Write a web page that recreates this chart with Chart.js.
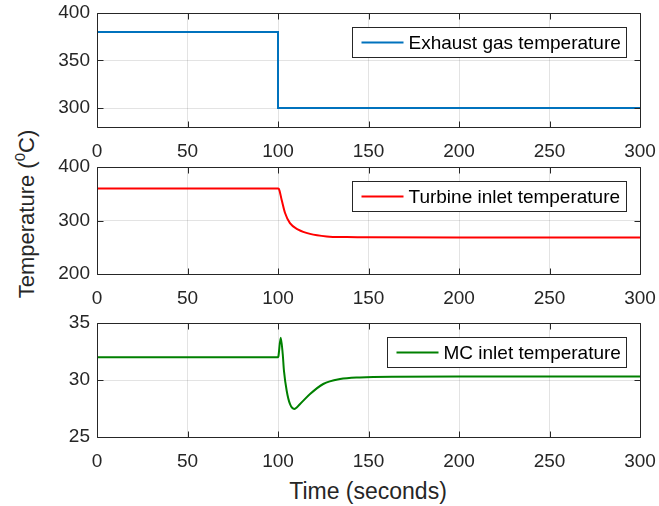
<!DOCTYPE html>
<html>
<head>
<meta charset="utf-8">
<script src="https://cdn.jsdelivr.net/npm/chart.js@4/dist/chart.umd.min.js"></script>
<style>
  body { margin: 0; background: #fff; }
  #wrap { position: relative; width: 659px; height: 506px; overflow: hidden; }
  canvas { position: absolute; left: 0; }
  .lbl { position: absolute; font-family: "Liberation Sans", Arial, sans-serif; color: #262626; white-space: nowrap; }
  #ylab { font-size: 22px; left: 27px; top: 214px; transform: translate(-50%, -50%) rotate(-90deg); }
  #xlab { font-size: 23px; left: 368px; top: 491px; transform: translate(-50%, -50%); }
  sup { font-size: 15px; vertical-align: 9px; line-height: 0; }
</style>
</head>
<body>
<div id="wrap">
  <canvas id="c1" width="659" height="165" style="top:0px;z-index:3"></canvas>
  <canvas id="c2" width="659" height="157" style="top:155px;z-index:2"></canvas>
  <canvas id="c3" width="659" height="173" style="top:302px;z-index:1"></canvas>
  <div class="lbl" id="ylab">Temperature (<sup>0</sup>C)</div>
  <div class="lbl" id="xlab">Time (seconds)</div>
</div>
<script>
// ===== Data =====
const xTicks = [0, 50, 100, 150, 200, 250, 300];

const exhaustTime = [0, 100, 100, 300];
const exhaustTemp = [380, 380, 300, 300];

const turbineTime = [0, 100, 100.5, 102, 103.9, 106.6, 111.2, 117.7, 126.9, 138, 150, 200, 300];
const turbineTemp = [360, 360, 359, 339, 314, 295, 283, 275, 270.3, 269, 268.5, 268.4, 268.4];

const mcTime = [0, 100, 100.2, 101.5, 102.6, 103.3, 104.8, 106.6, 109, 112.2, 117.7, 125, 134.3, 145.3, 163.7, 200, 300];
const mcTemp = [32, 32, 32.05, 33.7, 32.3, 30.8, 29.06, 27.9, 27.46, 27.9, 28.77, 29.65, 30.08, 30.23, 30.29, 30.3, 30.3];

const yTicks1 = [300, 350, 400];
const yTicks2 = [200, 300, 400];
const yTicks3 = [25, 30, 35];

const FONT = "'Liberation Sans', Arial, sans-serif";
const INK = "#262626";

// frame with inward ticks + boxed legend, MATLAB style
const matlabFrame = {
  id: "matlabFrame",
  afterDraw(chart) {
    const ctx = chart.ctx;
    const a = chart.chartArea;
    const xs = chart.scales.x, ys = chart.scales.y;
    ctx.save();
    ctx.strokeStyle = INK;
    ctx.lineWidth = 1;
    ctx.beginPath();
    const L = Math.round(a.left) + 0.5, R = Math.round(a.right) + 0.5;
    const T = Math.round(a.top) + 0.5, B = Math.round(a.bottom) + 0.5;
    ctx.rect(L, T, R - L, B - T);
    const tl = 6;
    xs.ticks.forEach(t => {
      const px = Math.round(xs.getPixelForValue(t.value)) + 0.5;
      ctx.moveTo(px, B); ctx.lineTo(px, B - tl);
      ctx.moveTo(px, T); ctx.lineTo(px, T + tl);
    });
    ys.ticks.forEach(t => {
      const py = Math.round(ys.getPixelForValue(t.value)) + 0.5;
      ctx.moveTo(L, py); ctx.lineTo(L + tl, py);
      ctx.moveTo(R, py); ctx.lineTo(R - tl, py);
    });
    ctx.stroke();

    // legend box
    const ds = chart.data.datasets[0];
    ctx.font = "19px " + FONT;
    const tw = ctx.measureText(ds.label).width;
    const boxR = Math.round(a.right - 14) + 0.5;
    const boxT = Math.round(a.top + 14) + 0.5;
    const boxW = Math.round(9 + 42 + 5 + tw + 6);
    const boxH = 30;
    const boxL = boxR - boxW;
    ctx.fillStyle = "#fff";
    ctx.fillRect(boxL, boxT, boxW, boxH);
    ctx.strokeStyle = INK;
    ctx.lineWidth = 1;
    ctx.strokeRect(boxL, boxT, boxW, boxH);
    ctx.strokeStyle = ds.borderColor;
    ctx.lineWidth = 2;
    ctx.beginPath();
    ctx.moveTo(boxL + 9, boxT + boxH / 2);
    ctx.lineTo(boxL + 51, boxT + boxH / 2);
    ctx.stroke();
    ctx.fillStyle = "#000";
    ctx.textBaseline = "middle";
    ctx.fillText(ds.label, boxL + 56, boxT + boxH / 2 + 1);
    ctx.restore();
  }
};

function makePlot(id, label, color, times, temps, yMin, yMax, yTicks, padTop) {
  const pts = times.map((t, i) => ({ x: t, y: temps[i] }));
  return new Chart(document.getElementById(id).getContext("2d"), {
    type: "line",
    data: {
      datasets: [{
        label: label,
        data: pts,
        borderColor: color,
        borderWidth: 2,
        pointRadius: 0,
        fill: false,
        cubicInterpolationMode: "monotone"
      }]
    },
    options: {
      responsive: false,
      animation: false,
      layout: { padding: { top: padTop, right: 19, bottom: 0, left: 0 } },
      plugins: { legend: { display: false }, tooltip: { enabled: false } },
      scales: {
        x: {
          type: "linear", min: 0, max: 300,
          afterBuildTicks: s => { s.ticks = xTicks.map(v => ({ value: v })); },
          afterFit: s => { s.height = 38; s.paddingLeft = 0; s.paddingRight = 0; },
          ticks: { color: INK, font: { family: FONT, size: 19 }, padding: 13, maxRotation: 0 },
          grid: { color: "rgba(38,38,38,0.13)", drawTicks: false },
          border: { display: false }
        },
        y: {
          type: "linear", min: yMin, max: yMax,
          afterBuildTicks: s => { s.ticks = yTicks.map(v => ({ value: v })); },
          afterFit: s => { s.width = 97; s.paddingTop = 0; s.paddingBottom = 0; },
          ticks: { color: INK, font: { family: FONT, size: 19 }, padding: 7 },
          grid: { color: "rgba(38,38,38,0.13)", drawTicks: false },
          border: { display: false }
        }
      }
    },
    plugins: [matlabFrame]
  });
}

makePlot("c1", "Exhaust gas temperature", "#0072BD", exhaustTime, exhaustTemp, 280, 400, yTicks1, 13);
makePlot("c2", "Turbine inlet temperature", "#FF0000", turbineTime, turbineTemp, 200, 400, yTicks2, 12);
makePlot("c3", "MC inlet temperature", "#008000", mcTime, mcTemp, 25, 35, yTicks3, 21);
</script>
</body>
</html>
